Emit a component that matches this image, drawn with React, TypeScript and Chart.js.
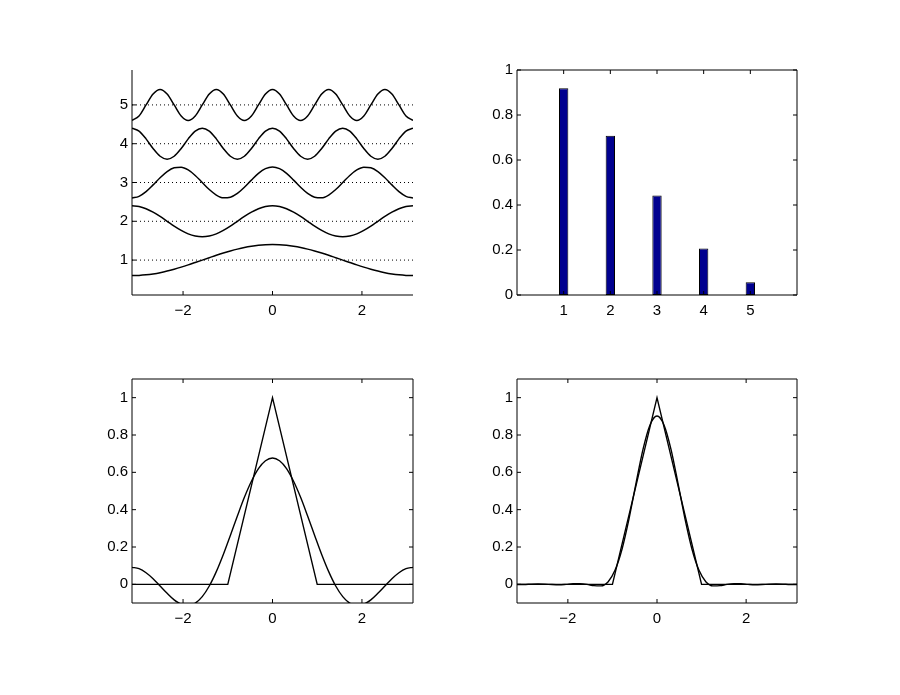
import React, { useEffect, useRef } from 'react';
import { Chart, registerables } from 'chart.js';

Chart.register(...registerables);

// ---------- data ----------
const XS = [
  -3.1416, -2.9845, -2.8274, -2.6704, -2.5133, -2.3562, -2.1991, -2.042, -1.885, -1.7279,
  -1.5708, -1.4137, -1.2566, -1.0996, -0.9425, -0.7854, -0.6283, -0.4712, -0.3142, -0.1571,
  0,
  0.1571, 0.3142, 0.4712, 0.6283, 0.7854, 0.9425, 1.0996, 1.2566, 1.4137, 1.5708,
  1.7279, 1.885, 2.042, 2.1991, 2.3562, 2.5133, 2.6704, 2.8274, 2.9845, 3.1416,
];

const WAVE_LEVELS = [1, 2, 3, 4, 5];

const WAVE_1 = [
  0.6, 0.605, 0.62, 0.644, 0.676, 0.717, 0.765, 0.818, 0.876, 0.938, 1.0, 1.062, 1.124, 1.182,
  1.235, 1.283, 1.324, 1.356, 1.38, 1.395, 1.4, 1.395, 1.38, 1.356, 1.324, 1.283, 1.235, 1.182,
  1.124, 1.062, 1.0, 0.938, 0.876, 0.818, 0.765, 0.717, 0.676, 0.644, 0.62, 0.605, 0.6,
];
const WAVE_2 = [
  2.4, 2.38, 2.324, 2.235, 2.124, 2.0, 1.876, 1.765, 1.676, 1.62, 1.6, 1.62, 1.676, 1.765, 1.876,
  2.0, 2.124, 2.235, 2.324, 2.38, 2.4, 2.38, 2.324, 2.235, 2.124, 2.0, 1.876, 1.765, 1.676, 1.62,
  1.6, 1.62, 1.676, 1.765, 1.876, 2.0, 2.124, 2.235, 2.324, 2.38, 2.4,
];
const WAVE_3 = [
  2.6, 2.644, 2.765, 2.938, 3.124, 3.283, 3.38, 3.395, 3.324, 3.182, 3.0, 2.818, 2.676, 2.605,
  2.62, 2.717, 2.876, 3.062, 3.235, 3.356, 3.4, 3.356, 3.235, 3.062, 2.876, 2.717, 2.62, 2.605,
  2.676, 2.818, 3.0, 3.182, 3.324, 3.395, 3.38, 3.283, 3.124, 2.938, 2.765, 2.644, 2.6,
];
const WAVE_4 = [
  4.4, 4.324, 4.124, 3.876, 3.676, 3.6, 3.676, 3.876, 4.124, 4.324, 4.4, 4.324, 4.124, 3.876,
  3.676, 3.6, 3.676, 3.876, 4.124, 4.324, 4.4, 4.324, 4.124, 3.876, 3.676, 3.6, 3.676, 3.876,
  4.124, 4.324, 4.4, 4.324, 4.124, 3.876, 3.676, 3.6, 3.676, 3.876, 4.124, 4.324, 4.4,
];
const WAVE_5 = [
  4.6, 4.717, 5.0, 5.283, 5.4, 5.283, 5.0, 4.717, 4.6, 4.717, 5.0, 5.283, 5.4, 5.283, 5.0,
  4.717, 4.6, 4.717, 5.0, 5.283, 5.4, 5.283, 5.0, 4.717, 4.6, 4.717, 5.0, 5.283, 5.4, 5.283,
  5.0, 4.717, 4.6, 4.717, 5.0, 5.283, 5.4, 5.283, 5.0, 4.717, 4.6,
];
const WAVES = [WAVE_1, WAVE_2, WAVE_3, WAVE_4, WAVE_5];

const TL_XTICKS = [-2, 0, 2];
const TL_YTICKS = [1, 2, 3, 4, 5];

const BAR_X = [1, 2, 3, 4, 5];
const BAR_Y = [0.919, 0.708, 0.442, 0.207, 0.057];
const TR_XTICKS = [1, 2, 3, 4, 5];
const TR_YTICKS = [0, 0.2, 0.4, 0.6, 0.8, 1];

const TRI_X = [-3.1416, -1, 0, 1, 3.1416];
const TRI_Y = [0, 0, 1, 0, 0];

const APPROX_2 = [
  0.091, 0.084, 0.062, 0.03, -0.009, -0.048, -0.083, -0.106, -0.114, -0.101, -0.066, -0.009,
  0.068, 0.16, 0.262, 0.366, 0.466, 0.552, 0.62, 0.662, 0.677, 0.662, 0.62, 0.552, 0.466, 0.366,
  0.262, 0.16, 0.068, -0.009, -0.066, -0.101, -0.114, -0.106, -0.083, -0.048, -0.009, 0.03,
  0.062, 0.084, 0.091,
];
const APPROX_5 = [
  -0.001, -0.001, 0.001, 0.002, 0.001, -0.001, -0.002, 0.0, 0.003, 0.003, 0.0, -0.007, -0.008,
  0.013, 0.075, 0.188, 0.351, 0.541, 0.723, 0.854, 0.902, 0.854, 0.723, 0.541, 0.351, 0.188,
  0.075, 0.013, -0.008, -0.007, 0.0, 0.003, 0.003, 0.0, -0.002, -0.001, 0.001, 0.002, 0.001,
  -0.001, -0.001,
];
const BOTTOM_XTICKS = [-2, 0, 2];
const BOTTOM_YTICKS = [0, 0.2, 0.4, 0.6, 0.8, 1];

// ---------- helpers ----------
const FONT = { family: '"Liberation Sans", Arial, Helvetica, sans-serif', size: 15 };
Chart.defaults.font.family = FONT.family;
Chart.defaults.font.size = FONT.size;
Chart.defaults.color = '#000';

const fmt = (v: number | string) => {
  const n = Number(v);
  return n < 0 ? '\u2212' + String(Math.abs(n)) : String(n);
};
const pts = (xs: number[], ys: number[]) => xs.map((x, i) => ({ x, y: ys[i] }));

const zeroPad = (s: any) => {
  s.paddingTop = 0;
  s.paddingBottom = 0;
  s.paddingLeft = 0;
  s.paddingRight = 0;
};

function scalesFor(xMin: number, xMax: number, xTicks: number[], yMin: number, yMax: number, yTicks: number[]) {
  return {
    x: {
      type: 'linear',
      min: xMin,
      max: xMax,
      offset: false,
      grid: { display: false, drawTicks: false },
      border: { display: false },
      afterBuildTicks: (s: any) => {
        s.ticks = xTicks.map((v) => ({ value: v }));
      },
      ticks: { callback: fmt, color: '#000', font: FONT, padding: 7, autoSkip: false, maxRotation: 0 },
      afterFit: (s: any) => {
        s.height = 30;
        zeroPad(s);
      },
    },
    y: {
      type: 'linear',
      min: yMin,
      max: yMax,
      grid: { display: false, drawTicks: false },
      border: { display: false },
      afterBuildTicks: (s: any) => {
        s.ticks = yTicks.map((v) => ({ value: v }));
      },
      ticks: { callback: fmt, color: '#000', font: FONT, padding: 4, autoSkip: false },
      afterFit: (s: any) => {
        s.width = 60;
        zeroPad(s);
      },
    },
  };
}

const framePlugin = {
  id: 'matlabFrame',
  afterDatasetsDraw(chart: any, _args: any, opts: any) {
    const { ctx, chartArea: a, scales } = chart;
    const L = 4;
    ctx.save();
    ctx.strokeStyle = '#000';
    ctx.lineWidth = 1;
    ctx.beginPath();
    ctx.moveTo(a.left, a.top);
    ctx.lineTo(a.left, a.bottom);
    ctx.lineTo(a.right, a.bottom);
    if (opts.box) {
      ctx.lineTo(a.right, a.top);
      ctx.lineTo(a.left, a.top);
    }
    scales.x.ticks.forEach((t: any) => {
      const px = scales.x.getPixelForValue(t.value);
      ctx.moveTo(px, a.bottom);
      ctx.lineTo(px, a.bottom - L);
      if (opts.box) {
        ctx.moveTo(px, a.top);
        ctx.lineTo(px, a.top + L);
      }
    });
    scales.y.ticks.forEach((t: any) => {
      const py = scales.y.getPixelForValue(t.value);
      ctx.moveTo(a.left, py);
      ctx.lineTo(a.left + L, py);
      if (opts.box) {
        ctx.moveTo(a.right, py);
        ctx.lineTo(a.right - L, py);
      }
    });
    ctx.stroke();
    ctx.restore();
  },
};

const baseOptions = (scales: any, box: boolean) => ({
  responsive: false,
  animation: false,
  devicePixelRatio: 1,
  events: [],
  layout: { padding: { left: 0, top: 20, right: 20, bottom: 0 } },
  plugins: { legend: { display: false }, tooltip: { enabled: false }, matlabFrame: { box } },
  scales,
});

const smoothLine = (data: any[], width: number) => ({
  type: 'line',
  data,
  borderColor: '#000',
  borderWidth: width,
  pointRadius: 0,
  fill: false,
  cubicInterpolationMode: 'monotone',
  clip: 0,
});

const straightLine = (data: any[], width: number) => ({
  type: 'line',
  data,
  borderColor: '#000',
  borderWidth: width,
  pointRadius: 0,
  fill: false,
  tension: 0,
  clip: 0,
});

const configTL = () => ({
  type: 'line',
  data: {
    datasets: [
      ...WAVES.map((w) => smoothLine(pts(XS, w), 1.5)),
      ...WAVE_LEVELS.map((lv) => ({
        ...straightLine([{ x: XS[0], y: lv }, { x: XS[XS.length - 1], y: lv }], 1),
        borderDash: [1, 3],
      })),
    ],
  },
  options: baseOptions(scalesFor(XS[0], XS[XS.length - 1], TL_XTICKS, 0.1, 5.9, TL_YTICKS), false),
  plugins: [framePlugin],
});

const configTR = () => ({
  type: 'bar',
  data: {
    datasets: [
      {
        data: pts(BAR_X, BAR_Y),
        backgroundColor: '#00008F',
        borderColor: '#000',
        borderWidth: 1,
        borderSkipped: false,
        categoryPercentage: 1,
        barPercentage: 0.2,
      },
    ],
  },
  options: baseOptions(scalesFor(0, 6, TR_XTICKS, 0, 1, TR_YTICKS), true),
  plugins: [framePlugin],
});

const configBottom = (approx: number[]) => () => ({
  type: 'line',
  data: {
    datasets: [straightLine(pts(TRI_X, TRI_Y), 1.4), smoothLine(pts(XS, approx), 1.4)],
  },
  options: baseOptions(scalesFor(XS[0], XS[XS.length - 1], BOTTOM_XTICKS, -0.1, 1.1, BOTTOM_YTICKS), true),
  plugins: [framePlugin],
});

// ---------- components ----------
type Area = { l: number; t: number; r: number; b: number };

function Plot({ area, make }: { area: Area; make: () => any }) {
  const ref = useRef<HTMLCanvasElement>(null);
  const w = area.r - area.l + 80;
  const h = area.b - area.t + 50;
  useEffect(() => {
    const chart = new Chart(ref.current as HTMLCanvasElement, make());
    return () => chart.destroy();
  }, []);
  return (
    <canvas
      ref={ref}
      width={w}
      height={h}
      style={{ position: 'absolute', left: area.l - 60, top: area.t - 20, width: w, height: h }}
    />
  );
}

export default function App() {
  return (
    <div
      style={{
        position: 'fixed',
        left: 0,
        top: 0,
        width: 900,
        height: 695,
        background: '#fff',
        overflow: 'hidden',
      }}
    >
      <Plot area={{ l: 132, t: 70, r: 413, b: 295 }} make={configTL} />
      <Plot area={{ l: 517, t: 70, r: 797, b: 295 }} make={configTR} />
      <Plot area={{ l: 132, t: 379, r: 413, b: 603 }} make={configBottom(APPROX_2)} />
      <Plot area={{ l: 517, t: 379, r: 797, b: 603 }} make={configBottom(APPROX_5)} />
    </div>
  );
}
